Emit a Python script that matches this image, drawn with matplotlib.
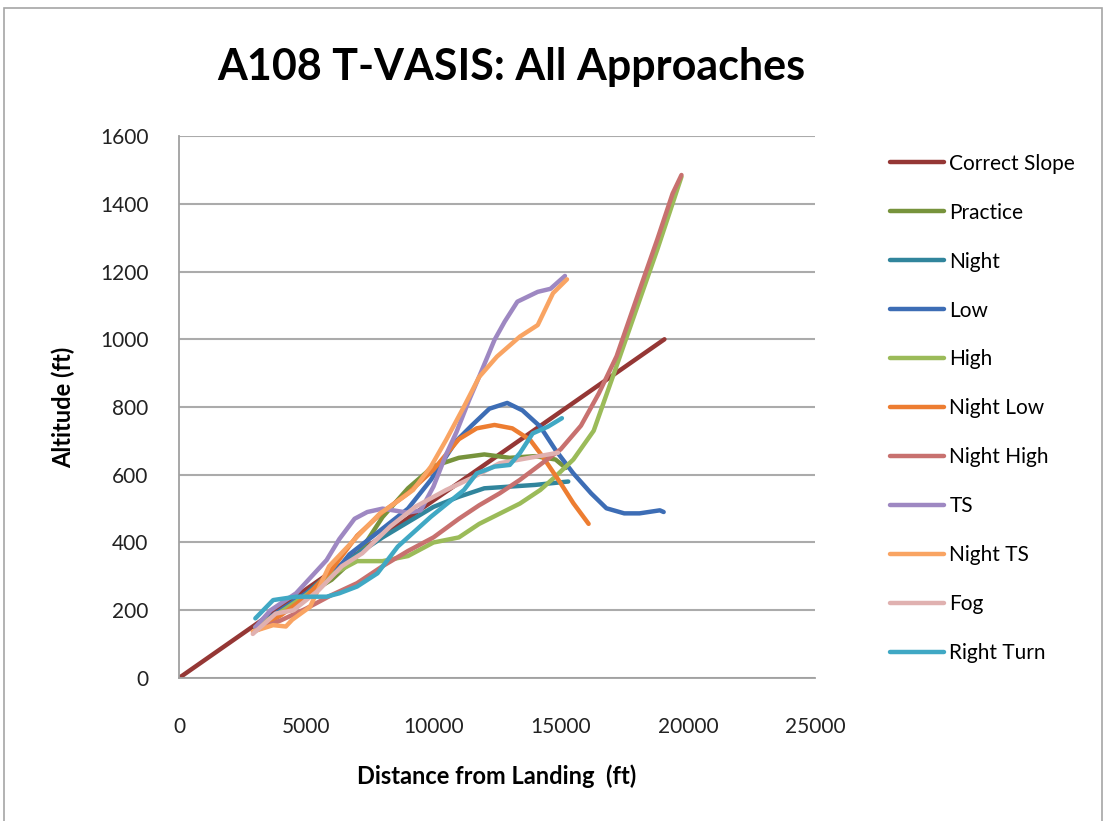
import matplotlib.pyplot as plt
from matplotlib.patches import Rectangle

plt.rcParams['font.family'] = ['Lato', 'DejaVu Sans']

# data (distance ft, altitude ft)
slope_x = [0, 19080]
slope_y = [0, 1000]

practice_x = [3000, 4000, 5000, 6000, 7000, 8000, 9000, 10000, 11000, 12000, 13000, 14000, 14800, 15200]
practice_y = [150, 195, 245, 290, 360, 475, 560, 625, 650, 660, 650, 655, 645, 620]

night_x = [3000, 4000, 5000, 6000, 7000, 8000, 9000, 10000, 11000, 12000, 13000, 14000, 15300]
night_y = [150, 200, 250, 315, 365, 415, 460, 505, 535, 560, 565, 570, 580]

low_x = [3000, 4000, 5000, 6000, 6700, 7900, 9000, 9900, 10900, 11500, 12200, 12900, 13500,
         14200, 14800, 15500, 16200, 16800, 17500, 18100, 18900, 19050]
low_y = [150, 200, 250, 300, 365, 435, 500, 585, 700, 745, 795, 812, 790,
         742, 673, 604, 545, 501, 486, 486, 495, 490]

high_x = [3000, 4000, 5000, 6000, 7000, 8000, 9000, 10000, 11000, 11800, 12600, 13400, 14200,
          14800, 15500, 16300, 17100, 18100, 18800, 19750]
high_y = [150, 195, 245, 305, 345, 345, 360, 400, 415, 455, 485, 515, 555,
          595, 645, 730, 900, 1115, 1265, 1480]

nlow_x = [3000, 4000, 5000, 6000, 7000, 8000, 9000, 10000, 11000, 11700, 12400, 13100, 13800,
          14300, 15000, 15500, 16100]
nlow_y = [140, 185, 240, 320, 420, 490, 545, 615, 705, 737, 747, 737, 703,
          653, 575, 516, 455]

nhigh_x = [3000, 4000, 5000, 6000, 7000, 8000, 9000, 10000, 11000, 11800, 12600, 13400, 14200,
           15000, 15800, 16500, 17200, 18100, 18800, 19400, 19750]
nhigh_y = [140, 170, 205, 245, 280, 330, 375, 415, 470, 510, 545, 585, 630,
           675, 745, 840, 950, 1145, 1295, 1430, 1485]

ts_x = [3000, 3600, 4600, 5800, 6300, 6900, 7400, 8000, 9000, 9500, 10000, 10500, 10900, 11400,
        11800, 12400, 12800, 13300, 14100, 14600, 15170]
ts_y = [150, 200, 250, 348, 410, 470, 490, 500, 488, 495, 565, 660, 725, 820,
        890, 998, 1052, 1111, 1140, 1149, 1187]

nts_x = [2900, 3700, 4200, 4450, 5150, 5900, 7000, 7900, 8300, 9200, 9900, 10500, 11200, 11800,
         12500, 13400, 14100, 14700, 15250]
nts_y = [137, 156, 152, 172, 210, 330, 417, 486, 506, 555, 624, 703, 801, 889,
         949, 1008, 1042, 1136, 1177]

fog_x = [2900, 3800, 4500, 5500, 6400, 7200, 8300, 9300, 10500, 11600, 12600, 13700, 14900]
fog_y = [130, 190, 200, 260, 330, 368, 447, 506, 555, 594, 634, 649, 665]

turn_x = [3000, 3700, 4600, 5800, 6300, 7000, 7800, 8600, 9900, 11200, 11700, 12400, 13000,
          13400, 13900, 14500, 15050]
turn_y = [176, 230, 240, 240, 250, 270, 309, 388, 476, 555, 604, 624, 629,
          664, 722, 742, 767]

series = [
    ("Correct Slope", slope_x, slope_y, "#953735"),
    ("Practice", practice_x, practice_y, "#77933C"),
    ("Night", night_x, night_y, "#31859C"),
    ("Low", low_x, low_y, "#3D6DB5"),
    ("High", high_x, high_y, "#9BBB59"),
    ("Night Low", nlow_x, nlow_y, "#ED7D31"),
    ("Night High", nhigh_x, nhigh_y, "#C8716F"),
    ("TS", ts_x, ts_y, "#9E88C2"),
    ("Night TS", nts_x, nts_y, "#F9A463"),
    ("Fog", fog_x, fog_y, "#E0B1B0"),
    ("Right Turn", turn_x, turn_y, "#40A8C4"),
]

fig = plt.figure(figsize=(11.05, 8.21), dpi=100)
fig.patches.append(Rectangle((0.004, -0.02), 0.993, 1.01, transform=fig.transFigure,
                             fill=False, edgecolor="#A6A6A6", linewidth=1.2))
ax = fig.add_axes([0.162, 0.1742, 0.5756, 0.6601])

for name, xs, ys, col in series:
    ax.plot(xs, ys, color=col, linewidth=3.2, label=name,
            solid_joinstyle="round", solid_capstyle="round")

ax.set_xlim(0, 25000)
ax.set_ylim(0, 1600)
ax.set_xticks(range(0, 25001, 5000))
ax.set_yticks(range(0, 1601, 200))
ax.yaxis.grid(True, color="#ABABAB", linewidth=1.5)
ax.set_axisbelow(True)
for s in ["top", "right"]:
    ax.spines[s].set_visible(False)
for s in ["left", "bottom"]:
    ax.spines[s].set_color("#A0A0A0")
    ax.spines[s].set_linewidth(1.3)
ax.tick_params(length=0, labelsize=15, colors="#222222")
ax.tick_params(axis="x", pad=28)
ax.tick_params(axis="y", pad=22)

ax.set_xlabel("Distance from Landing  (ft)", fontsize=17, fontweight="bold", labelpad=20)
ax.set_ylabel("Altitude (ft)", fontsize=17, fontweight="bold", labelpad=18)
fig.text(0.4625, 0.918, "A108 T-VASIS: All Approaches", fontsize=31, fontweight="bold",
         ha="center", va="center")

ax.legend(loc="upper left", bbox_to_anchor=(0.798, 0.823), bbox_transform=fig.transFigure,
          frameon=False, fontsize=15, handlelength=2.6, handletextpad=0.25,
          labelspacing=1.39, borderaxespad=0)

fig.savefig("out.png", dpi=100)
